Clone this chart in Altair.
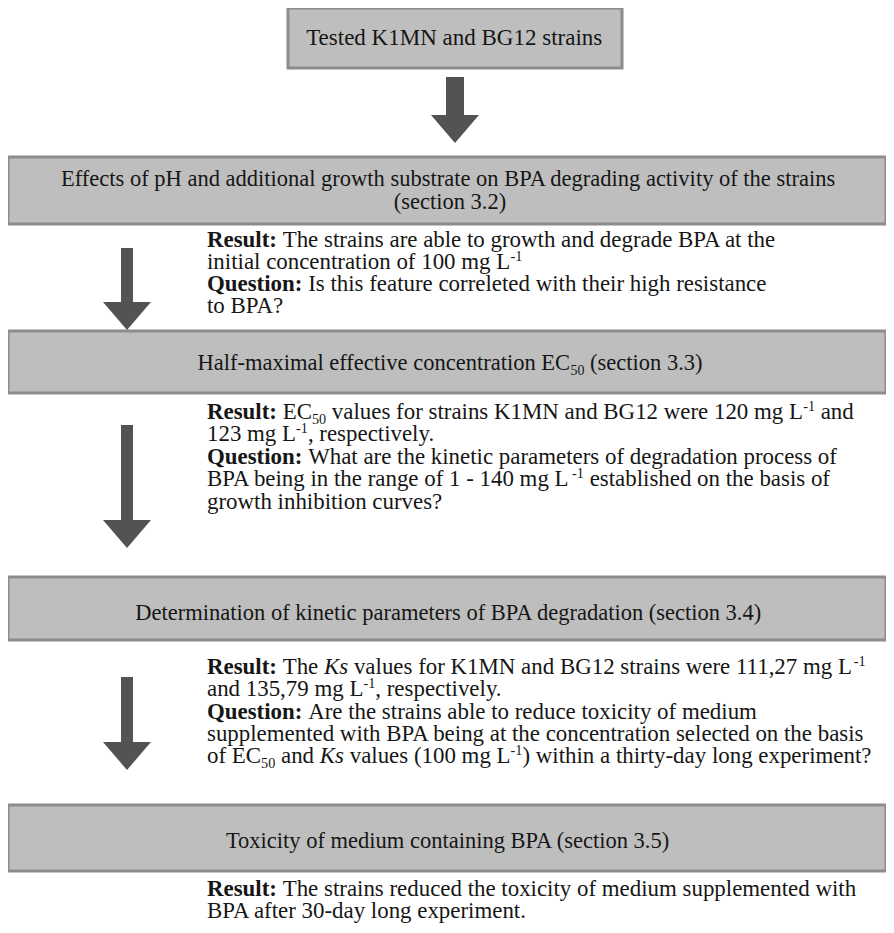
import altair as alt
import pandas as pd

# ---------------- content ----------------
TITLES = [
    [[("Tested K1MN and BG12 strains", "n")]],
    [[("Effects of pH and additional growth substrate on BPA degrading activity of the strains", "n")],
     [("(section 3.2)", "n")]],
    [[("Half-maximal effective concentration EC", "n"), ("50", "sub"), (" (section 3.3)", "n")]],
    [[("Determination of kinetic parameters of BPA degradation (section 3.4)", "n")]],
    [[("Toxicity of medium containing BPA (section 3.5)", "n")]],
]

RESULTS = [
    [
        [("Result:", "b"), (" The strains are able to growth and degrade BPA at the", "n")],
        [("initial concentration of 100 mg L", "n"), ("-1", "sup")],
        [("Question:", "b"), (" Is this feature correleted with their high resistance", "n")],
        [("to BPA?", "n")],
    ],
    [
        [("Result:", "b"), (" EC", "n"), ("50", "sub"),
         (" values for strains K1MN and BG12 were 120 mg L", "n"), ("-1", "sup"), (" and", "n")],
        [("123 mg L", "n"), ("-1", "sup"), (", respectively.", "n")],
        [("Question:", "b"), (" What are the kinetic parameters of degradation process of", "n")],
        [("BPA being in the range of 1 - 140 mg L", "n"), ("-1", "sup"), (" established on the basis of", "n")],
        [("growth inhibition curves?", "n")],
    ],
    [
        [("Result:", "b"), (" The ", "n"), ("Ks", "i"),
         (" values for K1MN and BG12 strains were 111,27 mg L", "n"), ("-1", "sup")],
        [("and 135,79 mg L", "n"), ("-1", "sup"), (", respectively.", "n")],
        [("Question:", "b"), (" Are the strains able to reduce toxicity of medium", "n")],
        [("supplemented with BPA being at the concentration selected on the basis", "n")],
        [("of EC", "n"), ("50", "sub"), (" and ", "n"), ("Ks", "i"), (" values (100 mg L", "n"),
         ("-1", "sup"), (") within a thirty-day long experiment?", "n")],
    ],
    [
        [("Result:", "b"), (" The strains reduced the toxicity of medium supplemented with", "n")],
        [("BPA after 30-day long experiment.", "n")],
    ],
]

# ---------------- layout ----------------
BOX_X = [(288, 622), (8, 886), (8, 886), (8, 886), (8, 886)]
BOX_Y = [(8, 68), (157, 224), (331, 393), (577, 640), (805, 871)]
TITLE_BASE = [[45], [186, 209], [370], [620], [848]]
TITLE_SIZE = [23, 22.5, 22.5, 22.5, 22.5]
RESULT_X = 207
RESULT_BASE = [[247, 269, 291, 313], [419, 441, 464, 486, 509],
               [674, 696, 719, 741, 763], [896, 918]]
# arrow: center x, shaft top, head top, tip, shaft width, head width
ARROWS = [(455, 77, 115, 143, 18, 48), (127, 248, 302, 330, 12, 48),
          (127, 425, 520, 548, 12, 48), (127, 677, 742, 770, 12, 48)]
FONT_SIZE = 22.9
SMALL = 0.62

# Times (Liberation Serif metric-compatible) advance widths, 1/1000 em
ROMAN = {' ': 250, '(': 333, ')': 333, ',': 250, '-': 333, '.': 250, ':': 278, '?': 444,
         'A': 722, 'B': 667, 'C': 667, 'D': 722, 'E': 611, 'F': 556, 'G': 722, 'H': 722,
         'I': 333, 'J': 389, 'K': 722, 'L': 611, 'M': 889, 'N': 722, 'O': 722, 'P': 556,
         'Q': 722, 'R': 667, 'S': 556, 'T': 611, 'U': 722, 'V': 722, 'W': 944, 'X': 722,
         'Y': 722, 'Z': 611,
         'a': 444, 'b': 500, 'c': 444, 'd': 500, 'e': 444, 'f': 333, 'g': 500, 'h': 500,
         'i': 278, 'j': 278, 'k': 500, 'l': 278, 'm': 778, 'n': 500, 'o': 500, 'p': 500,
         'q': 500, 'r': 333, 's': 389, 't': 278, 'u': 500, 'v': 500, 'w': 722, 'x': 500,
         'y': 500, 'z': 444}
for d in '0123456789':
    ROMAN[d] = 500
BOLD = dict(ROMAN)
BOLD.update({':': 333, 'R': 722, 'u': 556, 't': 333, 'Q': 778, 'n': 556})
ITAL = dict(ROMAN)
ITAL.update({'K': 667})


def run_width(text, style, size):
    table = BOLD if style == "b" else ITAL if style == "i" else ROMAN
    s = size * SMALL if style in ("sup", "sub") else size
    return sum(table.get(c, 500) for c in text) / 1000.0 * s


def lay_runs(runs, x0, base, size, rows):
    x = x0
    for text, style in runs:
        s = size * SMALL if style in ("sup", "sub") else size
        lead = len(text) - len(text.lstrip(' '))
        stripped = text.strip(' ')
        xs = x + run_width(' ' * lead, style, size)
        y = base
        if style == "sup":
            y = base - size * 0.36
        elif style == "sub":
            y = base + size * 0.2
        if stripped:
            rows.append({"x": xs, "y": y, "t": stripped, "style": style, "size": s})
        x += run_width(text, style, size)


rows = []
for i, lines in enumerate(TITLES):
    cx = (BOX_X[i][0] + BOX_X[i][1]) / 2 if i == 0 else 450
    for j, runs in enumerate(lines):
        tw = sum(run_width(t, st, TITLE_SIZE[i]) for t, st in runs)
        lay_runs(runs, cx - tw / 2, TITLE_BASE[i][j], TITLE_SIZE[i], rows)
for i, lines in enumerate(RESULTS):
    for j, runs in enumerate(lines):
        lay_runs(runs, RESULT_X, RESULT_BASE[i][j], FONT_SIZE, rows)
text_df = pd.DataFrame(rows)

boxes = pd.DataFrame({"x": [b[0] for b in BOX_X], "x2": [b[1] for b in BOX_X],
                      "y": [b[0] for b in BOX_Y], "y2": [b[1] for b in BOX_Y]})
shafts = pd.DataFrame({"x": [a[0] - a[4] / 2 for a in ARROWS], "x2": [a[0] + a[4] / 2 for a in ARROWS],
                       "y": [a[1] for a in ARROWS], "y2": [a[2] + 1 for a in ARROWS]})
heads = pd.DataFrame({"x": [a[0] for a in ARROWS],
                      "y": [(a[2] + a[3]) / 2 for a in ARROWS],
                      "s": [a[5] ** 2 for a in ARROWS]})
half = (ARROWS[0][3] - ARROWS[0][2]) / ARROWS[0][5]
TRI = f"M-1,{-half:.3f}L1,{-half:.3f}L0,{half:.3f}Z"

W, H = 878, 917
XS = alt.Scale(domain=[8, 8 + W])
YS = alt.Scale(domain=[8, 8 + H], reverse=True)
ARROW_COLOR = "#535353"

box_layer = alt.Chart(boxes).mark_rect(fill="#bebebe", stroke="#8c8c8c", strokeWidth=3).encode(
    x=alt.X("x:Q", scale=XS, axis=None), x2="x2:Q",
    y=alt.Y("y:Q", scale=YS, axis=None), y2="y2:Q")
shaft_layer = alt.Chart(shafts).mark_rect(fill=ARROW_COLOR).encode(
    x=alt.X("x:Q", scale=XS, axis=None), x2="x2:Q",
    y=alt.Y("y:Q", scale=YS, axis=None), y2="y2:Q")
head_layer = alt.Chart(heads).mark_point(shape=TRI, filled=True, fill=ARROW_COLOR,
                                         opacity=1, strokeWidth=0).encode(
    x=alt.X("x:Q", scale=XS, axis=None),
    y=alt.Y("y:Q", scale=YS, axis=None),
    size=alt.Size("s:Q", scale=None, legend=None))


def text_layer(styles, **kw):
    return alt.Chart(text_df).transform_filter(
        alt.FieldOneOfPredicate(field="style", oneOf=styles)
    ).mark_text(align="left", baseline="alphabetic", font="Liberation Serif", color="#161616", **kw).encode(
        x=alt.X("x:Q", scale=XS, axis=None),
        y=alt.Y("y:Q", scale=YS, axis=None),
        text="t:N",
        size=alt.Size("size:Q", scale=None, legend=None))


chart = alt.layer(
    box_layer, shaft_layer, head_layer,
    text_layer(["n", "sup", "sub"]),
    text_layer(["b"], fontWeight="bold"),
    text_layer(["i"], fontStyle="italic"),
).properties(width=W, height=H, padding=0, background="white",
             autosize=alt.AutoSizeParams(type="none")
).configure_view(strokeWidth=0, stroke=None)

chart.save("out.html", embed_options={"renderer": "svg", "actions": False})
